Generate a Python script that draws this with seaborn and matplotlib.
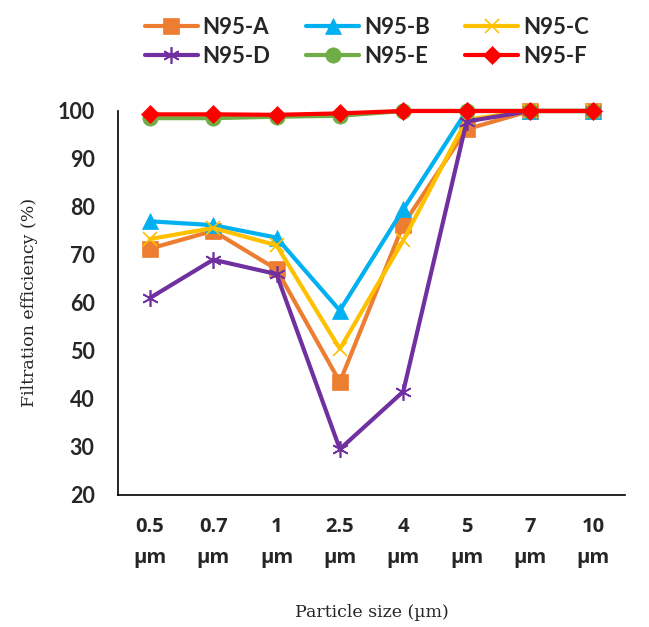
import matplotlib
matplotlib.use("Agg")
import matplotlib.pyplot as plt
import seaborn as sns
import numpy as np

sizes = ["0.5\nµm", "0.7\nµm", "1\nµm", "2.5\nµm", "4\nµm", "5\nµm", "7\nµm", "10\nµm"]
n95_a = [71.3, 75.0, 67.0, 43.5, 76.3, 96.2, 100, 100]
n95_b = [77.0, 76.2, 73.6, 58.4, 79.5, 100, 100, 100]
n95_c = [73.3, 75.6, 72.0, 50.4, 73.0, 98.2, 100, 100]
n95_d = [61.0, 69.0, 66.0, 29.5, 41.5, 97.8, 100, 100]
n95_e = [98.5, 98.5, 98.8, 99.0, 100, 100, 100, 100]
n95_f = [99.3, 99.3, 99.2, 99.5, 100, 100, 100, 100]

series = [
    ("N95-A", n95_a, "#ED7D31", "s", 11),
    ("N95-B", n95_b, "#00B0F0", "^", 11),
    ("N95-C", n95_c, "#FFC000", "x", 10),
    ("N95-D", n95_d, "#7030A0", (6, 2, 0), 12),
    ("N95-E", n95_e, "#70AD47", "o", 11),
    ("N95-F", n95_f, "#FF0000", "D", 9),
]

sns.set_style("white")
fig = plt.figure(figsize=(6.49, 6.27), dpi=100)
ax = fig.add_axes([0.182, 0.211, 0.781, 0.612])

pos = np.arange(len(sizes))
for name, vals, col, mk, ms in series:
    sns.lineplot(x=pos, y=vals, ax=ax, color=col, marker=mk, markersize=ms,
                 linewidth=3, markeredgecolor=col, markerfacecolor=col,
                 markeredgewidth=1.2 if mk in ("x", (6, 2, 0)) else 0.5,
                 label=name, clip_on=False, legend=False)

ax.set_xlim(-0.5, len(sizes) - 0.5)
ax.set_ylim(20, 100)
ax.set_yticks(np.arange(20, 101, 10))
ax.set_xticks(pos)
ax.set_xticklabels(sizes)
ax.set_xticks(np.arange(-0.5, len(sizes), 1.0), minor=True)
ax.tick_params(axis="x", which="major", length=0, pad=16)
ax.tick_params(axis="x", which="minor", length=5, width=1, color="black", direction="out")
ax.tick_params(axis="y", length=5, width=1, color="black", direction="out", pad=12)
for lab in ax.get_xticklabels():
    lab.set_fontfamily("Open Sans")
    lab.set_fontweight("bold")
    lab.set_fontsize(14.5)
    lab.set_linespacing(1.75)
for lab in ax.get_yticklabels():
    lab.set_fontfamily("Lato")
    lab.set_fontweight("bold")
    lab.set_fontsize(15.5)

for s in ["top", "right"]:
    ax.spines[s].set_visible(False)
for s in ["left", "bottom"]:
    ax.spines[s].set_color("black")
    ax.spines[s].set_linewidth(1.2)

ax.set_xlabel("Particle size (µm)", fontfamily="DejaVu Serif", fontsize=12.5, labelpad=26)
ax.set_ylabel("Filtration efficiency (%)", fontfamily="DejaVu Serif", fontsize=12.5, labelpad=14)

handles, labels = ax.get_legend_handles_labels()
order = [0, 3, 1, 4, 2, 5]
fig.legend([handles[i] for i in order], [labels[i] for i in order],
           loc="upper center", bbox_to_anchor=(0.565, 1.005), ncol=3,
           frameon=False, prop={"family": "Lato", "weight": "bold", "size": 16},
           handlelength=2.4, columnspacing=1.6, handletextpad=0.2, labelspacing=0.35)

fig.savefig("out.png", dpi=100)
